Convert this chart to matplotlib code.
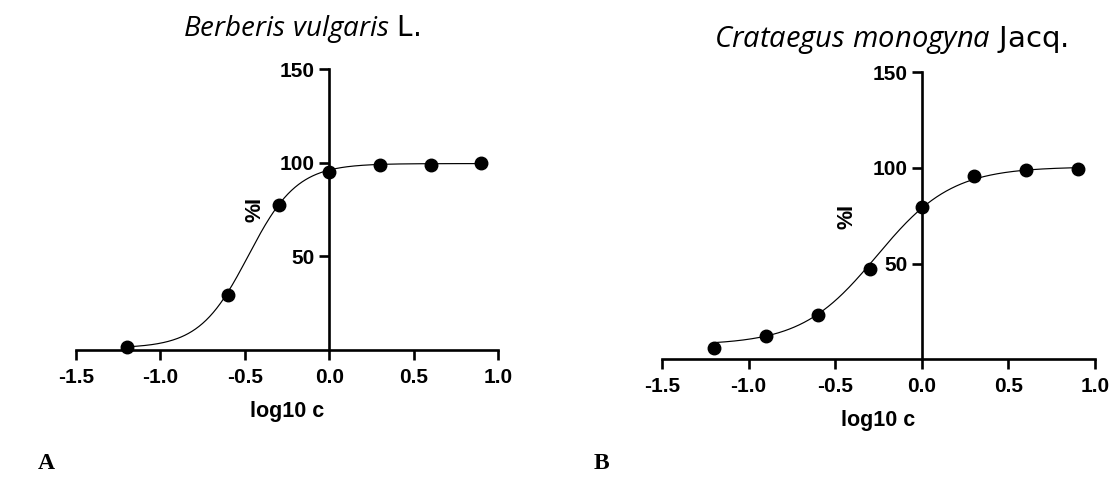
import numpy as np
import matplotlib
matplotlib.use("Agg")
import matplotlib.pyplot as plt
from matplotlib.ticker import FixedLocator, FixedFormatter

# dose points (log10 c) and % inhibition
log_c_a = [-1.2, -0.6, -0.3, 0.0, 0.3, 0.6, 0.9]
inhib_a = [1.8, 29.5, 77.6, 95.2, 98.9, 98.6, 100.0]
log_c_b = [-1.2, -0.9, -0.6, -0.3, 0.0, 0.3, 0.6, 0.9]
inhib_b = [5.9, 12.2, 23.2, 47.0, 79.6, 95.8, 99.1, 99.3]

# fitted 4PL parameters as drawn: bottom, top, logIC50, hill slope
fit_a = [1.0, 99.6, -0.48, 3.0]
fit_b = [7.5, 100.5, -0.26, 2.0]

x_ticks = [-1.5, -1.0, -0.5, 0.0, 0.5, 1.0]
x_tick_labels = ["-1.5", "-1.0", "-0.5", "0.0", "0.5", "1.0"]
y_ticks = [50, 100, 150]
y_tick_labels = ["50", "100", "150"]

plt.rcParams['mathtext.fontset'] = 'custom'
plt.rcParams['mathtext.rm'] = 'Open Sans'
plt.rcParams['mathtext.it'] = 'Open Sans:italic'


def four_pl(x, bottom, top, logic50, hill):
    return bottom + (top - bottom) / (1 + 10 ** ((logic50 - x) * hill))


def panel(ax, xs, ys, fit, ylab_pos, xlab_y):
    xx = np.linspace(min(xs), max(xs), 300)
    ax.plot(xx, four_pl(xx, *fit), color='black', lw=0.85, clip_on=False)
    ax.plot(xs, ys, 'o', color='black', ms=9, clip_on=False, zorder=3)

    ax.set_xlim(-1.5, 1.0)
    ax.set_ylim(0, 150)
    for s in ['top', 'right']:
        ax.spines[s].set_visible(False)
    for s in ['left', 'bottom']:
        ax.spines[s].set_position(('data', 0))
        ax.spines[s].set_linewidth(1.9)

    ax.xaxis.set_major_locator(FixedLocator(x_ticks))
    ax.xaxis.set_major_formatter(FixedFormatter(x_tick_labels))
    ax.yaxis.set_major_locator(FixedLocator(y_ticks))
    ax.yaxis.set_major_formatter(FixedFormatter(y_tick_labels))
    ax.tick_params(direction='out', length=7.2, width=1.9, labelsize=15)
    ax.tick_params(axis='x', pad=5.5)
    ax.tick_params(axis='y', pad=3)
    for lab in ax.get_xticklabels() + ax.get_yticklabels():
        lab.set_fontweight('bold')
        lab.set_family('Liberation Sans')

    ax.set_xlabel('log10 c', fontsize=15.5, fontweight='bold', family='Liberation Sans')
    ax.xaxis.set_label_coords(0.5, xlab_y)
    ax.text(ylab_pos[0], ylab_pos[1], '%I', rotation=90, fontsize=15.5, fontweight='bold',
            family='Liberation Sans', ha='center', va='center')


fig = plt.figure(figsize=(11.1, 4.83), dpi=100)
ax_a = fig.add_axes([0.0685, 0.2754, 0.3802, 0.5812])
ax_b = fig.add_axes([0.5964, 0.2561, 0.3901, 0.5948])

panel(ax_a, log_c_a, inhib_a, fit_a, (-0.44, 74.8), -0.182)
panel(ax_b, log_c_b, inhib_b, fit_b, (-0.43, 74.4), -0.176)

fig.text(0.2718, 0.926, r'$\mathit{Berberis\ vulgaris}$ L.', fontsize=20,
         ha='center', va='baseline')
fig.text(0.8027, 0.9033, r'$\mathit{Crataegus\ monogyna}$ Jacq.', fontsize=21,
         ha='center', va='baseline')

fig.text(0.034, 0.03, 'A', fontsize=17, fontweight='bold', family='Liberation Serif')
fig.text(0.535, 0.03, 'B', fontsize=17, fontweight='bold', family='Liberation Serif')

fig.savefig('out.png', dpi=100)
